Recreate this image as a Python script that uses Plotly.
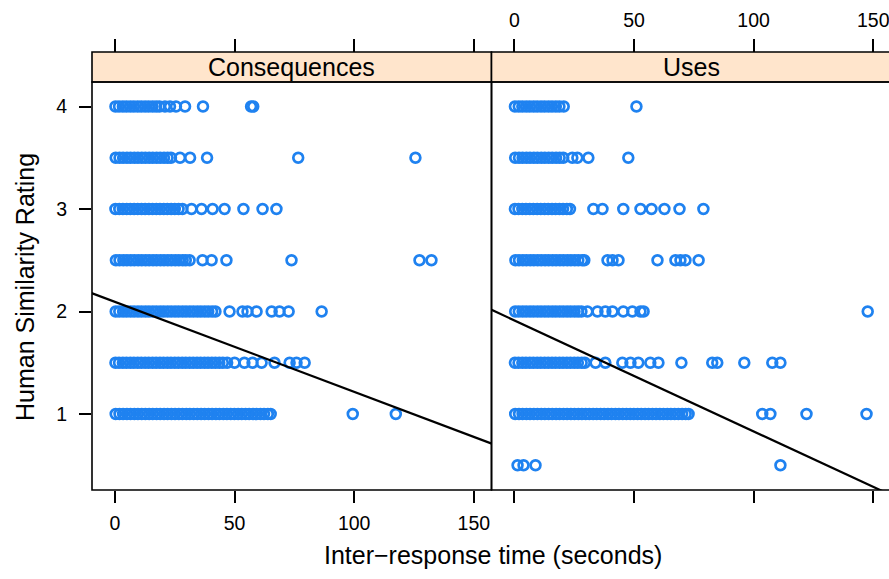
import plotly.graph_objects as go

# ---------------- data ----------------
panel_names = ["Consequences", "Uses"]
x_ticks = [0, 50, 100, 150]
y_ticks = [1, 2, 3, 4]

# Consequences panel: inter-response times (s) for each rating level
cons_4 = [0.2, 1.7, 3.3, 4.8, 6.4, 7.9, 9.5, 11.0, 12.6, 14.1, 15.7, 17.2, 18.6,
          20.9, 23.0, 25.5, 29.3, 36.8, 56.9, 57.8]
cons_35 = [0.3, 1.9, 3.4, 5.0, 6.5, 8.1, 9.6, 11.2, 12.7, 14.3, 15.8, 17.4, 18.9,
           20.5, 22.0, 23.4, 27.2, 31.4, 38.5, 76.6, 125.6]
cons_3 = [0.2, 1.8, 3.3, 4.9, 6.4, 8.0, 9.5, 11.1, 12.6, 14.2, 15.7, 17.3, 18.8,
          20.4, 21.9, 23.5, 25.0, 26.6, 28.2, 32.0, 36.2, 40.8, 45.8, 53.7, 61.7, 67.5]
cons_25 = [0.4, 1.9, 3.5, 5.0, 6.6, 8.1, 9.7, 11.2, 12.8, 14.3, 15.9, 17.4, 19.0,
           20.5, 22.1, 23.6, 25.2, 26.7, 28.3, 29.6, 31.2, 36.6, 40.4, 46.6, 73.8,
           127.3, 132.3]
cons_2 = [0.3, 1.8, 3.4, 4.9, 6.5, 8.0, 9.6, 11.1, 12.7, 14.2, 15.8, 17.3, 18.9,
          20.4, 22.0, 23.5, 25.1, 26.6, 28.2, 29.7, 31.3, 32.8, 34.4, 35.9, 37.5,
          39.0, 40.6, 42.0, 47.9, 53.3, 55.4, 59.2, 65.5, 68.8, 72.6, 86.4]
cons_15 = [0.2, 1.7, 3.3, 4.8, 6.4, 7.9, 9.5, 11.0, 12.6, 14.1, 15.7, 17.2, 18.8,
           20.3, 21.9, 23.4, 25.0, 26.5, 28.1, 29.6, 31.2, 32.7, 34.3, 35.8, 37.4,
           38.9, 40.5, 42.0, 43.6, 45.1, 46.9, 50.0, 54.1, 57.5, 61.3, 66.7, 73.0,
           75.9, 79.3]
cons_1 = [0.3, 1.9, 3.4, 5.0, 6.5, 8.1, 9.6, 11.2, 12.7, 14.3, 15.8, 17.4, 18.9,
          20.5, 22.0, 23.6, 25.1, 26.7, 28.2, 29.8, 31.3, 32.9, 34.4, 36.0, 37.5,
          39.1, 40.6, 42.2, 43.7, 45.3, 46.8, 48.4, 49.9, 51.5, 53.0, 54.6, 56.1,
          57.7, 59.2, 60.8, 62.3, 63.9, 65.1, 99.4, 117.4]

# Uses panel
uses_4 = [0.2, 1.8, 3.3, 4.9, 6.4, 8.0, 9.5, 11.1, 12.6, 14.2, 15.7, 17.3, 18.8,
          20.6, 51.0]
uses_35 = [0.3, 1.9, 3.4, 5.0, 6.5, 8.1, 9.6, 11.2, 12.7, 14.3, 15.8, 17.4, 18.9,
           20.4, 24.2, 26.3, 30.9, 47.6]
uses_3 = [0.2, 1.7, 3.3, 4.8, 6.4, 7.9, 9.5, 11.0, 12.6, 14.1, 15.7, 17.2, 18.8,
          20.3, 21.9, 23.2, 33.0, 36.8, 45.5, 52.7, 57.3, 62.7, 69.0, 79.0]
uses_25 = [0.4, 1.9, 3.5, 5.0, 6.6, 8.1, 9.7, 11.2, 12.8, 14.3, 15.9, 17.4, 19.0,
           20.5, 22.1, 23.6, 25.2, 26.7, 28.3, 29.2, 38.9, 41.0, 43.5, 59.8, 67.3,
           69.4, 71.5, 77.0]
uses_2 = [0.3, 1.8, 3.4, 4.9, 6.5, 8.0, 9.6, 11.1, 12.7, 14.2, 15.8, 17.3, 18.9,
          20.4, 22.0, 23.5, 25.1, 26.6, 28.0, 30.5, 34.7, 38.0, 41.0, 45.5, 49.3,
          52.7, 54.0, 147.7]
uses_15 = [0.2, 1.7, 3.3, 4.8, 6.4, 7.9, 9.5, 11.0, 12.6, 14.1, 15.7, 17.2, 18.8,
           20.3, 21.9, 23.4, 25.0, 26.5, 28.1, 29.4, 33.9, 38.0, 45.1, 48.5, 51.8,
           56.8, 60.2, 69.8, 82.7, 84.8, 96.1, 107.8, 111.2]
uses_1 = [0.3, 1.9, 3.4, 5.0, 6.5, 8.1, 9.6, 11.2, 12.7, 14.3, 15.8, 17.4, 18.9,
          20.5, 22.0, 23.6, 25.1, 26.7, 28.2, 29.8, 31.3, 32.9, 34.4, 36.0, 37.5,
          39.1, 40.6, 42.2, 43.7, 45.3, 46.8, 48.4, 49.9, 51.5, 53.0, 54.6, 56.1,
          57.7, 59.2, 60.8, 62.3, 63.9, 65.4, 67.0, 68.5, 70.1, 71.6, 72.8,
          103.6, 107.0, 122.1, 147.2]
uses_05 = [1.3, 3.8, 8.8, 111.2]

# fitted regression lines: intercept, slope
cons_fit = [2.094, -0.008778]
uses_fit = [1.913, -0.01082]

cons_rows = {4: cons_4, 3.5: cons_35, 3: cons_3, 2.5: cons_25, 2: cons_2, 1.5: cons_15, 1: cons_1}
uses_rows = {4: uses_4, 3.5: uses_35, 3: uses_3, 2.5: uses_25, 2: uses_2, 1.5: uses_15,
             1: uses_1, 0.5: uses_05}

# ---------------- figure ----------------
W, H = 889, 579
ML, MR, MT, MB = 92, 0, 52, 89
plot_w = W - ML - MR
plot_h = H - MT - MB
split = 399.5 / plot_w
ytop = (490 - 82) / plot_h

x_range_left = [-9.6, 157.4]
x_range_right = [-9.6, 156.6]
y_range = [0.259, 4.239]

blue = "#1f82f0"
font_family = "Liberation Sans, Arial, Helvetica, sans-serif"


def flatten(rows):
    xs, ys = [], []
    for level, vals in rows.items():
        xs.extend(vals)
        ys.extend([level] * len(vals))
    return xs, ys


fig = go.Figure()
for rows, fit, xa, ya, xr in [(cons_rows, cons_fit, "x", "y", x_range_left),
                              (uses_rows, uses_fit, "x2", "y2", x_range_right)]:
    xs, ys = flatten(rows)
    fig.add_trace(go.Scatter(x=xs, y=ys, mode="markers", xaxis=xa, yaxis=ya,
                             marker=dict(symbol="circle-open", size=9.8, color=blue,
                                         line=dict(width=2.7, color=blue)),
                             showlegend=False, hoverinfo="x+y"))
    lx = [xr[0] - 5, xr[1] + 5]
    ly = [fit[0] + fit[1] * v for v in lx]
    fig.add_trace(go.Scatter(x=lx, y=ly, mode="lines", xaxis=xa, yaxis=ya,
                             line=dict(color="black", width=2.2),
                             showlegend=False, hoverinfo="skip"))

# invisible traces so the top axes render
fig.add_trace(go.Scatter(x=[0], y=[1], xaxis="x3", yaxis="y", mode="markers",
                         marker=dict(opacity=0), showlegend=False, hoverinfo="skip"))
fig.add_trace(go.Scatter(x=[0], y=[1], xaxis="x4", yaxis="y2", mode="markers",
                         marker=dict(opacity=0), showlegend=False, hoverinfo="skip"))

tick_font = dict(family=font_family, size=19.5, color="black")
common_x = dict(tickvals=x_ticks, ticks="outside", ticklen=12, tickwidth=1.5,
                tickcolor="black", showgrid=False, zeroline=False, showline=False,
                tickfont=tick_font, fixedrange=True, automargin=False,
                ticklabeloverflow="allow")

fig.update_layout(
    width=W, height=H,
    margin=dict(l=ML, r=MR, t=MT, b=MB, autoexpand=False),
    paper_bgcolor="white", plot_bgcolor="white",
    xaxis=dict(domain=[0, split], range=x_range_left, anchor="y",
               showticklabels=True, ticklabelstandoff=4, **common_x),
    xaxis2=dict(domain=[split, 1], range=x_range_right, anchor="y2",
                showticklabels=False, **common_x),
    xaxis3=dict(overlaying="x", anchor="free", position=1, side="top",
                range=x_range_left, showticklabels=False,
                **{**common_x, "ticklen": 13}),
    xaxis4=dict(overlaying="x2", anchor="free", position=1, side="top",
                range=x_range_right, showticklabels=True, ticklabelstandoff=4,
                **{**common_x, "ticklen": 13}),
    yaxis=dict(domain=[0, ytop], range=y_range, anchor="x", tickvals=y_ticks,
               ticks="outside", ticklen=12, tickwidth=1.5, tickcolor="black",
               showgrid=False, zeroline=False, showline=False, tickfont=tick_font,
               ticklabelstandoff=8, fixedrange=True, automargin=False),
    yaxis2=dict(domain=[0, ytop], range=y_range, anchor="x2", matches="y",
                showticklabels=False, ticks="", showgrid=False, zeroline=False,
                showline=False, fixedrange=True, automargin=False),
)

shapes = []
border = dict(color="black", width=1.6)
for x0, x1 in [(0, split), (split, 1 + 4 / plot_w)]:
    shapes.append(dict(type="rect", xref="paper", yref="paper", x0=x0, x1=x1,
                       y0=ytop, y1=1, fillcolor="#ffe5cc", line=border, layer="above"))
    shapes.append(dict(type="rect", xref="paper", yref="paper", x0=x0, x1=x1,
                       y0=0, y1=ytop, fillcolor="rgba(0,0,0,0)", line=border, layer="above"))
fig.update_layout(shapes=shapes)

annotations = []
for name, (x0, x1) in zip(panel_names, [(0, split), (split, 1 + 2 / plot_w)]):
    annotations.append(dict(text=name, xref="paper", yref="paper", x=(x0 + x1) / 2,
                            y=(ytop + 1) / 2, xanchor="center", yanchor="middle",
                            showarrow=False,
                            font=dict(family=font_family, size=25, color="black")))
annotations.append(dict(text="Inter\u2212response time (seconds)", xref="paper", yref="paper",
                        x=(493 - ML) / plot_w, y=-(555 - (H - MB)) / plot_h,
                        xanchor="center", yanchor="middle", showarrow=False,
                        font=dict(family=font_family, size=25, color="black")))
annotations.append(dict(text="Human Similarity Rating", xref="paper", yref="paper",
                        x=-(ML - 25) / plot_w, y=(H - MB - 287) / plot_h,
                        xanchor="center", yanchor="middle", textangle=-90, showarrow=False,
                        font=dict(family=font_family, size=25, color="black")))
fig.update_layout(annotations=annotations)

fig.write_html("out.html",
               config={"displayModeBar": False},
               post_script="document.body.style.margin='0';"
                           "document.body.style.overflow='hidden';")
